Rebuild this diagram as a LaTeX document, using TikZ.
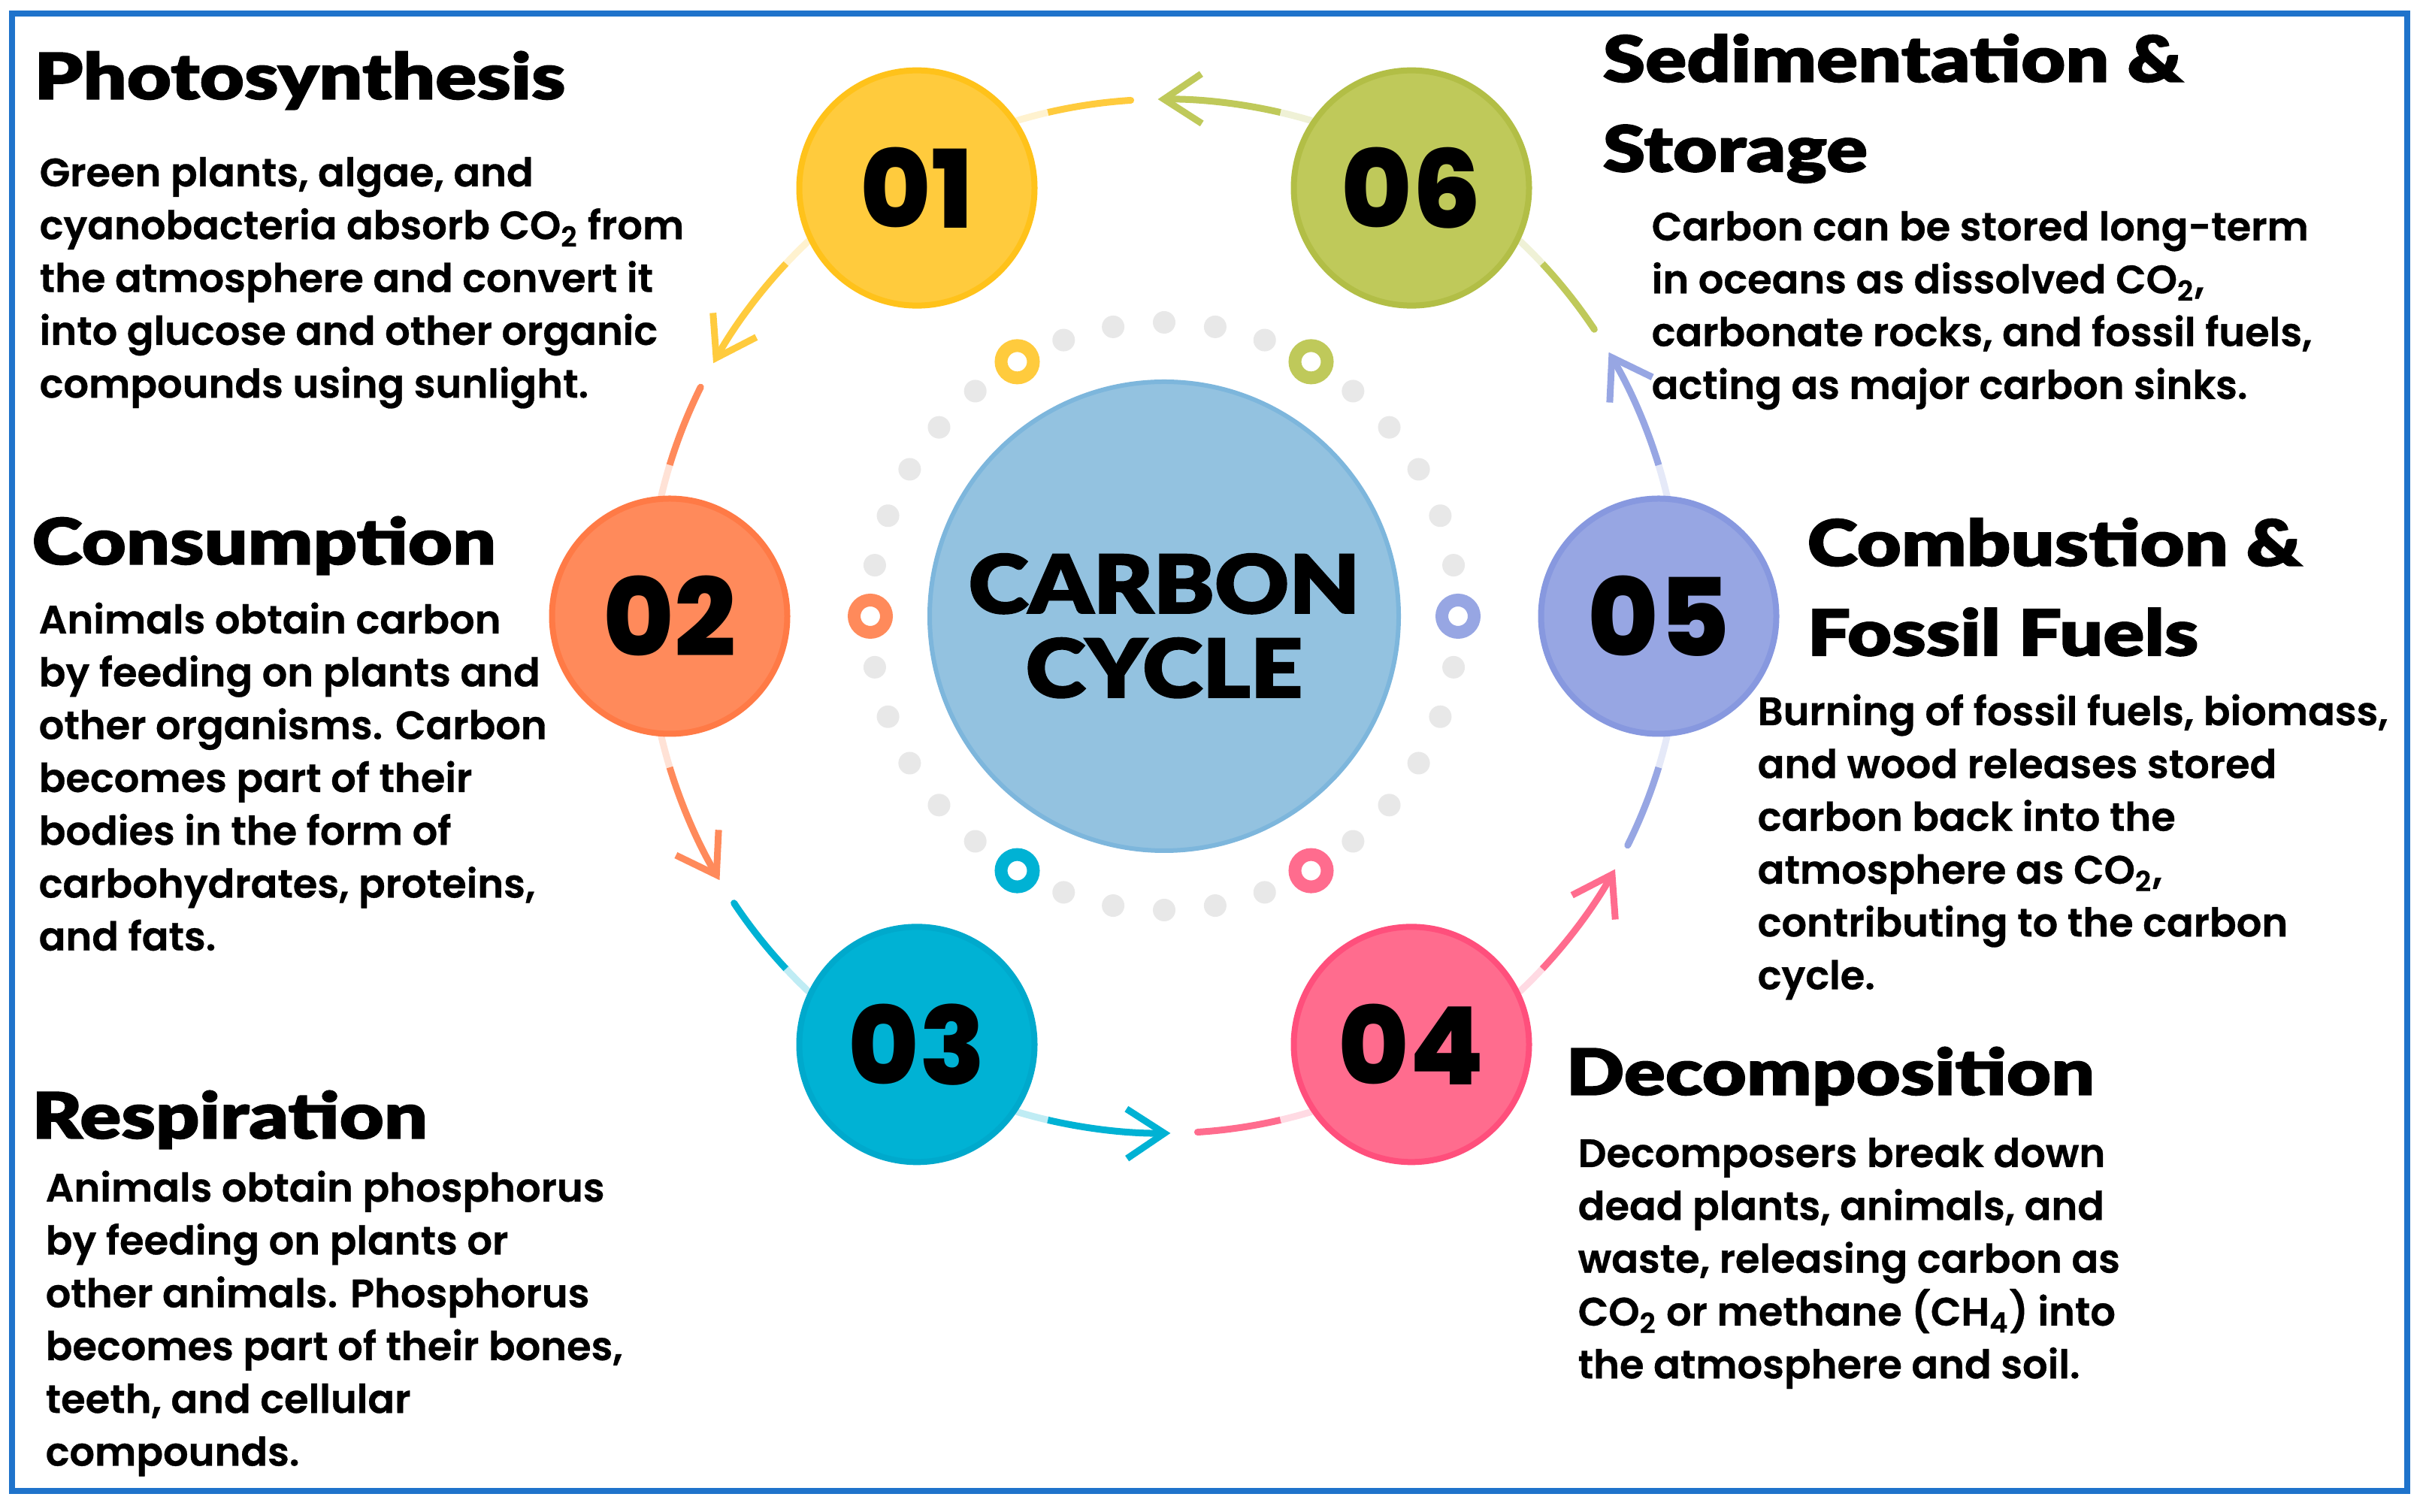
\documentclass[tikz,border=0pt]{standalone}
\usepackage{fontspec}
\usetikzlibrary{arrows.meta}
\IfFontExistsTF{Poppins Bold}{\newfontfamily\bodyfont{Poppins SemiBold}[FakeBold=0.6]}{\newfontfamily\bodyfont{Liberation Sans Bold}}
\IfFontExistsTF{Lato Black}{\newfontfamily\headfont{Lato Black}[FakeStretch=1.2,FakeBold=1.6]\newfontfamily\titlefont{Lato Black}[FakeStretch=1.13,FakeBold=1.8]}{\newfontfamily\headfont{Liberation Sans Bold}\newfontfamily\titlefont{Liberation Sans Bold}}
\IfFontExistsTF{Poppins ExtraBold}{\newfontfamily\numfont{Poppins ExtraBold}}{\newfontfamily\numfont{Poppins Bold}}
\definecolor{cYel}{HTML}{FFCB3D}\definecolor{cYelB}{HTML}{FFC21A}
\definecolor{cOra}{HTML}{FF8A5B}\definecolor{cOraB}{HTML}{FF7A46}
\definecolor{cCya}{HTML}{00B2D4}\definecolor{cCyaB}{HTML}{00A9CC}
\definecolor{cPin}{HTML}{FF6C8E}\definecolor{cPinB}{HTML}{FF4F7C}
\definecolor{cPer}{HTML}{97A6E3}\definecolor{cPerB}{HTML}{8798DF}
\definecolor{cGre}{HTML}{BFC95A}\definecolor{cGreB}{HTML}{B2BE46}
\definecolor{cCen}{HTML}{93C2E0}\definecolor{cCenB}{HTML}{7DB6DC}
\definecolor{cFrame}{HTML}{1F73CB}
\definecolor{cDot}{HTML}{E8E8E8}
\begin{document}
\begin{tikzpicture}[
  bignum/.style={circle, inner sep=0pt, minimum size=3.13cm, line width=0.08cm,
    font=\numfont\fontsize{41}{41}\selectfont},
  headtxt/.style={anchor=base west, inner sep=0pt, font=\headfont\fontsize{24.2}{34}\selectfont},
  bodytxt/.style={anchor=base west, inner sep=0pt, font=\bodyfont\fontsize{15.0}{20}\selectfont},
  arcline/.style={line width=0.09cm}
]
\useasboundingbox (0,0) rectangle (32.24,20.12);
\fill[white] (0,0) rectangle (32.24,20.12);
\draw[cFrame, line width=0.08cm] (0.16,0.28) rectangle (32.03,19.935);
\coordinate (C) at (15.49,11.92);
% dotted ring
\foreach \a in {10,20,30,40,50,70,80,90,100,110,130,140,150,160,170,190,200,210,220,230,250,260,270,280,290,310,320,330,340,350}
  \fill[cDot] ([shift={(\a:3.91)}]C) circle[radius=0.15];
\foreach \a/\c in {120/cYel,180/cOra,240/cCya,300/cPin,0/cPer,60/cGre}
  \draw[\c, line width=0.17cm] ([shift={(\a:3.91)}]C) circle[radius=0.215];
% arcs
\foreach \a/\s/\t in {60/cGre/cYel, 120/cYel/cOra, 180/cOra/cCya, 240/cCya/cPin, 300/cPin/cPer, 0/cPer/cGre}{
  \draw[\s!25, arcline] ([shift={({\a+13.4}:6.88)}]C) arc[start angle=\a+13.4, end angle=\a+17, radius=6.88cm];
  \draw[\s, arcline, -{Straight Barb[length=0.5cm,width=0.66cm]}] ([shift={({\a+17}:6.88)}]C) arc[start angle=\a+17, end angle=\a+30.7, radius=6.88cm];
  \draw[\t, arcline, line cap=round] ([shift={({\a+33.7}:6.88)}]C) arc[start angle=\a+33.7, end angle=\a+43, radius=6.88cm];
  \draw[\t!25, arcline] ([shift={({\a+43}:6.88)}]C) arc[start angle=\a+43, end angle=\a+46.6, radius=6.88cm];
}
% numbered circles
\node[bignum, fill=cYel, draw=cYelB] (n1) at ([shift={(120:6.58)}]C) {01};
\node[bignum, fill=cOra, draw=cOraB] (n2) at ([shift={(180:6.58)}]C) {02};
\node[bignum, fill=cCya, draw=cCyaB] (n3) at ([shift={(240:6.58)}]C) {03};
\node[bignum, fill=cPin, draw=cPinB] (n4) at ([shift={(300:6.58)}]C) {04};
\node[bignum, fill=cPer, draw=cPerB] (n5) at ([shift={(0:6.58)}]C) {05};
\node[bignum, fill=cGre, draw=cGreB] (n6) at ([shift={(60:6.58)}]C) {06};
% center
\node[circle, fill=cCen, draw=cCenB, line width=0.06cm, minimum size=6.24cm, inner sep=0pt] (hub) at (C) {};
\node[anchor=base, inner sep=0pt, font=\titlefont\fontsize{30.6}{31}\selectfont] (title) at (15.49,11.96)
  {\begin{tabular}[t]{@{}c@{}}CARBON\\CYCLE\end{tabular}};
% texts
\node[headtxt] (h1) at (0.45,18.80) {Photosynthesis};
\node[bodytxt] (b1) at (0.52,17.64) {\begin{tabular}[t]{@{}l@{}}Green plants, algae, and\\cyanobacteria absorb CO\textsubscript{2} from\\the atmosphere and convert it\\into glucose and other organic\\compounds using sunlight.\end{tabular}};
\node[headtxt] (h2) at (0.42,12.61) {Consumption};
\node[bodytxt] (b2) at (0.51,11.69) {\begin{tabular}[t]{@{}l@{}}Animals obtain carbon\\by feeding on plants and\\other organisms. Carbon\\becomes part of their\\bodies in the form of\\carbohydrates, proteins,\\and fats.\end{tabular}};
\node[headtxt] (h3) at (0.42,4.97) {Respiration};
\node[bodytxt] (b3) at (0.60,4.13) {\begin{tabular}[t]{@{}l@{}}Animals obtain phosphorus\\by feeding on plants or\\other animals. Phosphorus\\becomes part of their bones,\\teeth, and cellular\\compounds.\end{tabular}};
\node[headtxt] (h6) at (21.32,19.03) {\begin{tabular}[t]{@{}l@{}}Sedimentation \&\\Storage\end{tabular}};
\node[bodytxt] (b6) at (21.97,16.92) {\begin{tabular}[t]{@{}l@{}}Carbon can be stored long-term\\in oceans as dissolved CO\textsubscript{2},\\carbonate rocks, and fossil fuels,\\acting as major carbon sinks.\end{tabular}};
\node[headtxt] (h5) at (24.04,12.59) {\begin{tabular}[t]{@{}l@{}}Combustion \&\\Fossil Fuels\end{tabular}};
\node[bodytxt] (b5) at (23.38,10.47) {\begin{tabular}[t]{@{}l@{}}Burning of fossil fuels, biomass,\\and wood releases stored\\carbon back into the\\atmosphere as CO\textsubscript{2},\\contributing to the carbon\\cycle.\end{tabular}};
\node[headtxt] (h4) at (20.83,5.55) {Decomposition};
\node[bodytxt] (b4) at (20.99,4.59) {\begin{tabular}[t]{@{}l@{}}Decomposers break down\\dead plants, animals, and\\waste, releasing carbon as\\CO\textsubscript{2} or methane (CH\textsubscript{4}) into\\the atmosphere and soil.\end{tabular}};
\end{tikzpicture}
\end{document}
